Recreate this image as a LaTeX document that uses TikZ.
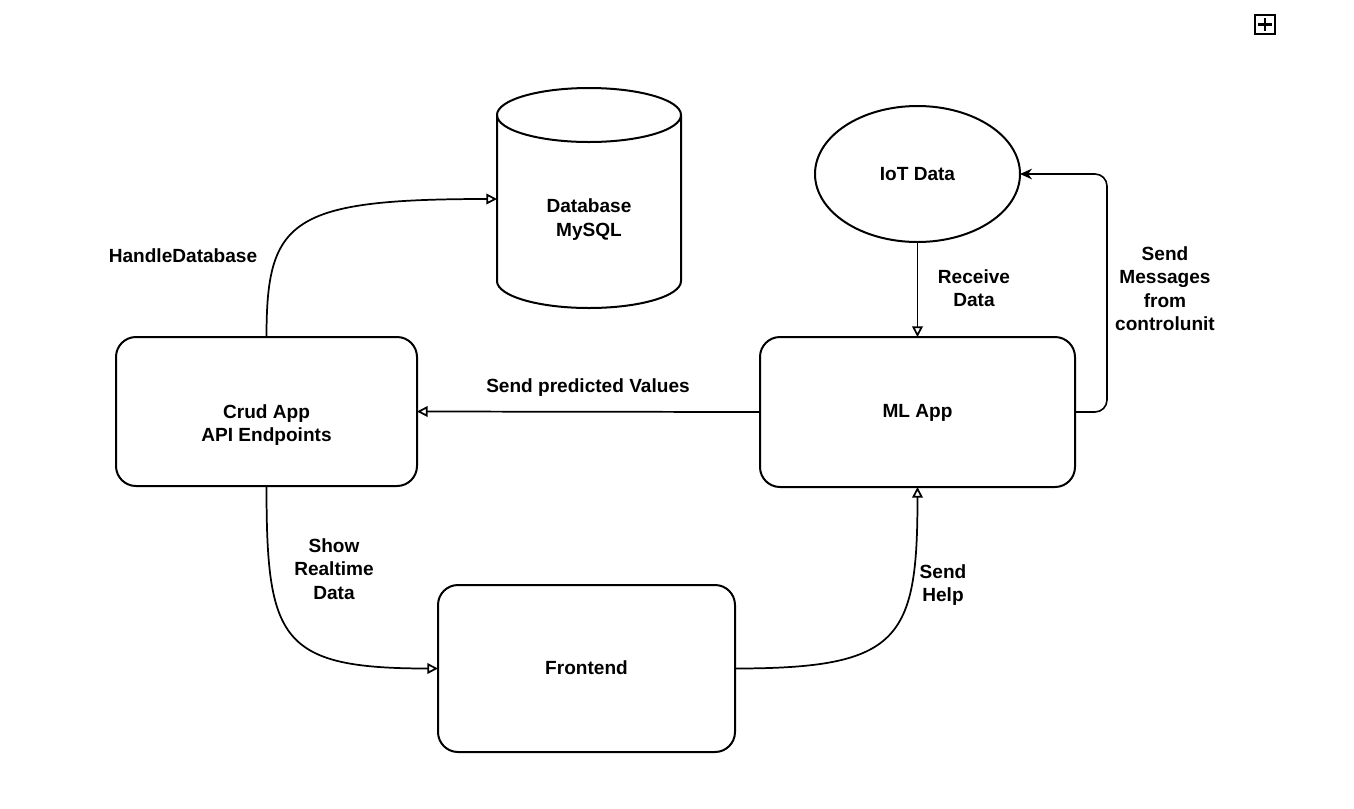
\documentclass[tikz,border=0pt]{standalone}
\usepackage{fontspec}
\setmainfont{Liberation Sans}
\usetikzlibrary{shapes.geometric,arrows.meta}
\begin{document}
\begin{tikzpicture}[x=0.75pt,y=-0.75pt,
  every node/.style={font=\fontsize{14.3}{17.6}\selectfont\bfseries},
  appbox/.style={draw, line width=1.5pt, rounded corners=15pt, inner sep=0pt, outer sep=0pt},
  lbl/.style={align=center, inner sep=0pt},
  conn/.style={line width=1.3pt, -{Triangle[open,length=8pt,width=8pt]}},
  connfill/.style={line width=1.2pt, -{Stealth[length=9pt,width=8pt]}}
]
\useasboundingbox (0,0) rectangle (1354,808);

% top-right icon
\draw[line width=1.6pt] (1255,15) rectangle (1275,34);
\draw[line width=1.6pt] (1265,18) -- (1265,31) (1258,24.5) -- (1272,24.5);

% nodes
\node[appbox, minimum width=225.75pt, minimum height=111.75pt] (crud) at (266.5,411.5) {};
\node[lbl] (crudtext) at (266.5,425) {Crud App\\API Endpoints};
\node[appbox, minimum width=236.25pt, minimum height=112.5pt] (ml) at (917.5,412) {};
\node[lbl] (mltext) at (917.5,413) {ML App};
\node[appbox, minimum width=222.75pt, minimum height=125.25pt] (fe) at (586.5,668.5) {};
\node[lbl] (fetext) at (586.5,668) {Frontend};
\node[draw, ellipse, line width=1.5pt, inner sep=0pt, outer sep=0pt, minimum width=153.75pt, minimum height=102pt] (iot) at (917.5,174) {};
\node[lbl] (iottext) at (917.5,174) {IoT Data};

% database cylinder
\node[inner sep=0pt, outer sep=0pt, minimum width=138pt, minimum height=163.5pt] (db) at (589,199) {};
\draw[line width=1.5pt] (589,115) ellipse[x radius=69pt, y radius=20.25pt];
\draw[line width=1.5pt] (497,115) -- (497,281)
  arc[start angle=180, end angle=360, x radius=69pt, y radius=20.25pt] -- (681,115);
\node[lbl] (dbtext) at (589,219.5) {Database\\MySQL};

% connectors
\draw[conn] (crud.north) .. controls (266.5,220) and (290,199) .. (db.west);
\draw[conn] (ml.west) -- (crud.east);
\draw[conn] (iot.south) -- (ml.north);
\draw[connfill, rounded corners=9pt] (ml.east) -- ++(24pt,0) |- (iot.east);
\draw[conn] (crud.south) .. controls (266.5,640) and (280,668.5) .. (fe.west);
\draw[conn] (fe.east) .. controls (900,668.5) and (917.5,640) .. (ml.south);

% labels
\node[lbl] (l1) at (183,256) {HandleDatabase};
\node[lbl] (l2) at (588,388) {Send predicted Values};
\node[lbl] (l3) at (974,288) {Receive\\Data};
\node[lbl] (l4) at (1165,288.5) {Send\\Messages\\from\\controlunit};
\node[lbl] (l5) at (334,569) {Show\\Realtime\\Data};
\node[lbl] (l6) at (943,585) {Send\\Help};
\end{tikzpicture}
\end{document}
